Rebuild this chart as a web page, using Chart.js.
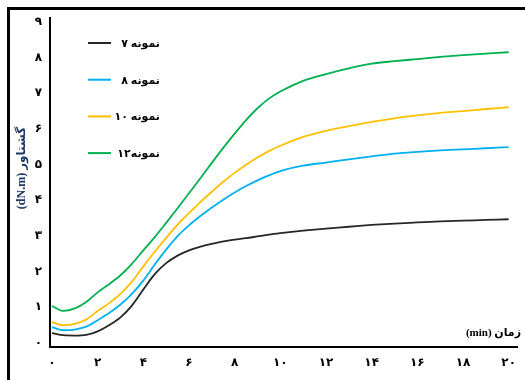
<!DOCTYPE html>
<html>
<head>
<meta charset="utf-8">
<script src="https://cdn.jsdelivr.net/npm/chart.js@4"></script>
<style>
  html, body { margin: 0; padding: 0; background: #fff; }
  #wrap { width: 525px; height: 380px; }
</style>
</head>
<body>
<div id="wrap"><canvas id="myChart" width="525" height="380"></canvas></div>
<script>
const times = [0, 0.5, 1, 1.5, 2, 2.5, 3, 3.5, 4, 4.5, 5, 5.5, 6, 6.5, 7, 7.5, 8, 8.5, 9, 9.5, 10, 11, 12, 13, 14, 15, 16, 17, 18, 19, 20];
const sample7 = [0.28, 0.22, 0.21, 0.23, 0.33, 0.5, 0.72, 1.05, 1.5, 1.93, 2.24, 2.45, 2.6, 2.7, 2.78, 2.85, 2.9, 2.94, 2.99, 3.04, 3.08, 3.15, 3.21, 3.26, 3.31, 3.35, 3.38, 3.41, 3.43, 3.45, 3.47];
const sample8 = [0.45, 0.36, 0.38, 0.46, 0.64, 0.84, 1.08, 1.38, 1.75, 2.2, 2.62, 3.0, 3.3, 3.56, 3.8, 4.02, 4.22, 4.4, 4.56, 4.7, 4.82, 4.97, 5.06, 5.15, 5.23, 5.31, 5.36, 5.4, 5.43, 5.46, 5.49];
const sample10 = [0.59, 0.5, 0.54, 0.66, 0.9, 1.12, 1.38, 1.72, 2.15, 2.56, 2.95, 3.32, 3.64, 3.95, 4.24, 4.52, 4.77, 5.0, 5.2, 5.38, 5.53, 5.78, 5.95, 6.08, 6.2, 6.3, 6.38, 6.45, 6.5, 6.56, 6.61];
const sample12 = [1.04, 0.9, 0.97, 1.15, 1.42, 1.65, 1.9, 2.22, 2.6, 2.97, 3.37, 3.78, 4.2, 4.62, 5.05, 5.47, 5.87, 6.25, 6.58, 6.85, 7.05, 7.35, 7.54, 7.7, 7.83, 7.9, 7.96, 8.02, 8.07, 8.11, 8.15];
const seriesNames = ['نمونه ۷', 'نمونه ۸', 'نمونه ۱۰', 'نمونه۱۲'];
const seriesColors = ['#262626', '#00b0f0', '#ffc000', '#00b050'];
const xTicks = [0, 2, 4, 6, 8, 10, 12, 14, 16, 18, 20];
const yTicks = [0, 1, 2, 3, 4, 5, 6, 7, 8, 9];
const xTitle = '(min) زمان';
const yTitle = '(dN.m) گشتاور';

const FONT = "'Liberation Serif', 'DejaVu Sans', serif";
const faDigits = '۰۱۲۳۴۵۶۷۸۹';
function toFa(n) {
  return String(n).replace(/[0-9]/g, d => faDigits[d]);
}

const allSeries = [sample7, sample8, sample10, sample12];
const datasets = allSeries.map((vals, i) => ({
  label: seriesNames[i],
  data: times.map((t, j) => ({ x: t, y: vals[j] })),
  borderColor: seriesColors[i],
  borderWidth: 1.8,
  pointRadius: 0,
  cubicInterpolationMode: 'monotone',
  fill: false
}));

// frame, legend and axis titles
const decor = {
  id: 'decor',
  afterDraw(chart) {
    const c = chart.ctx;
    c.save();
    c.fillStyle = '#000';
    c.fillRect(7, 7, 518, 3);
    c.fillRect(7, 7, 3, 373);

    c.font = 'bold 11px ' + FONT;
    c.textBaseline = 'middle';
    chart.data.datasets.forEach((ds, i) => {
      const y = 43 + i * 36.7;
      c.strokeStyle = ds.borderColor;
      c.lineWidth = 2;
      c.beginPath();
      c.moveTo(88, y);
      c.lineTo(111, y);
      c.stroke();
      c.fillStyle = '#000';
      c.textAlign = 'right';
      c.fillText(ds.label, 160, y + 1);
    });

    c.fillStyle = '#000';
    c.textAlign = 'right';
    c.font = 'bold 11px ' + FONT;
    c.fillText(xTitle, 521, 333);

    c.translate(22, 168);
    c.rotate(-Math.PI / 2);
    c.fillStyle = '#1f3864';
    c.textAlign = 'center';
    c.font = 'bold 12px ' + FONT;
    c.fillText(yTitle, 0, 0);
    c.restore();
  }
};

new Chart(document.getElementById('myChart'), {
  type: 'line',
  data: { datasets: datasets },
  options: {
    responsive: false,
    animation: false,
    layout: { padding: { left: 0, right: 2, top: 18, bottom: 0 } },
    plugins: { legend: { display: false }, tooltip: { enabled: false } },
    scales: {
      x: {
        type: 'linear',
        min: -0.087,
        max: 20.39,
        afterBuildTicks: s => { s.ticks = xTicks.map(v => ({ value: v })); },
        afterFit: s => { s.height = 33; },
        grid: { display: false, drawTicks: false },
        border: { display: true, color: '#000', width: 2 },
        ticks: {
          color: '#000',
          padding: 9,
          maxRotation: 0,
          font: { family: FONT, size: 12, weight: 'bold' },
          callback: v => toFa(v)
        }
      },
      y: {
        min: -0.11,
        max: 9.11,
        afterBuildTicks: s => { s.ticks = yTicks.map(v => ({ value: v })); },
        afterFit: s => { s.width = 50; },
        grid: { display: false, drawTicks: false },
        border: { display: true, color: '#000', width: 2 },
        ticks: {
          color: '#000',
          padding: 8,
          font: { family: FONT, size: 12, weight: 'bold' },
          callback: v => toFa(v)
        }
      }
    }
  },
  plugins: [decor]
});
</script>
</body>
</html>
